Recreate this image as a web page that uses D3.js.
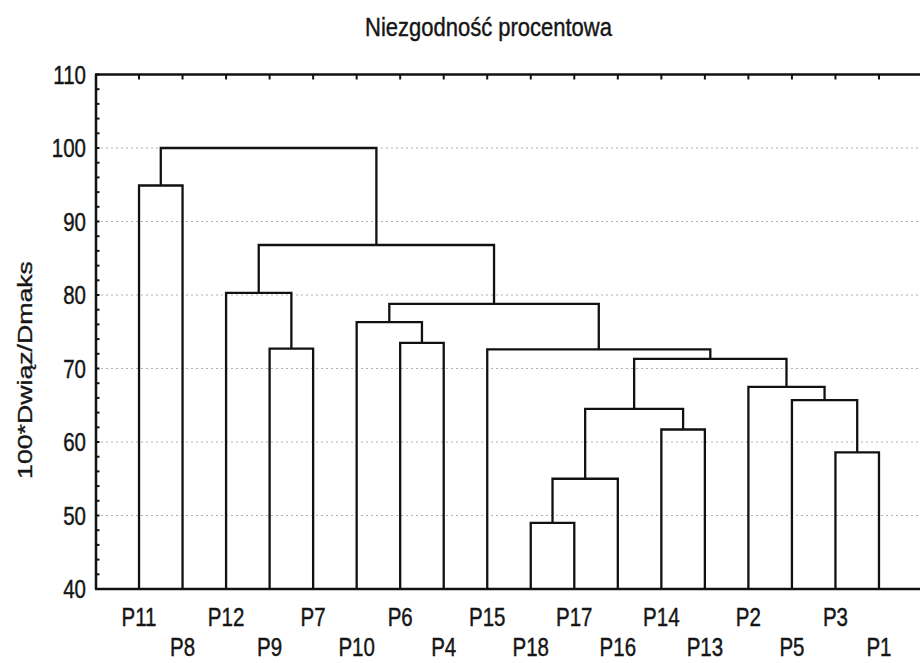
<!DOCTYPE html>
<html>
<head>
<meta charset="utf-8">
<script src="https://cdn.jsdelivr.net/npm/d3@7"></script>
<style>
  html, body { margin: 0; padding: 0; background: #fff; }
  svg { display: block; }
  text { font-family: "Liberation Sans", Arial, sans-serif; fill: #161616; stroke: #161616; stroke-width: 0.35px; }
</style>
</head>
<body>
<div id="chart"></div>
<script>
// Leaf order along the horizontal axis
const leaves = ["P11","P8","P12","P9","P7","P10","P6","P4","P15",
                "P18","P17","P16","P14","P13","P2","P5","P3","P1"];

// Agglomeration steps: [cluster id, left member, right member, linkage distance]
const merges = [
  ["c1",  "P18", "P17", 49.0],
  ["c2",  "c1",  "P16", 55.0],
  ["c3",  "P3",  "P1",  58.6],
  ["c4",  "P14", "P13", 61.7],
  ["c5",  "c2",  "c4",  64.5],
  ["c6",  "P5",  "c3",  65.7],
  ["c7",  "P2",  "c6",  67.5],
  ["c8",  "c5",  "c7",  71.3],
  ["c9",  "P15", "c8",  72.6],
  ["c10", "P9",  "P7",  72.7],
  ["c11", "P6",  "P4",  73.5],
  ["c12", "P10", "c11", 76.3],
  ["c13", "c12", "c9",  78.8],
  ["c14", "P12", "c10", 80.3],
  ["c15", "c14", "c13", 86.8],
  ["c16", "P11", "P8",  94.9],
  ["c17", "c16", "c15", 100.0]
];

const yTicks = [40, 50, 60, 70, 80, 90, 100, 110];
const gridValues = [50, 60, 70, 80, 90, 100];
const minorStep = 2;

const titleText = "Niezgodność procentowa";
const yLabelText = "100*Dwiąz/Dmaks";

const W = 920, H = 663;
const plotLeft = 96, plotTop = 74.5, plotBottom = 589, plotRight = 922.5;

const svg = d3.select("#chart").append("svg")
  .attr("width", W).attr("height", H);

const x = d3.scalePoint().domain(leaves).range([95.5, plotRight]).padding(1);
const y = d3.scaleLinear().domain([40, 110]).range([plotBottom, plotTop]);

// build the tree from the merge list
const nodes = new Map();
leaves.forEach(name => nodes.set(name, { name, dist: 40 }));
merges.forEach(([id, a, b, d]) => {
  nodes.set(id, { name: id, dist: d, children: [nodes.get(a), nodes.get(b)] });
});
const root = d3.hierarchy(nodes.get(merges[merges.length - 1][0]));
root.eachAfter(n => {
  n.px = n.children ? d3.mean(n.children, c => c.px) : x(n.data.name);
  n.py = y(n.data.dist);
});

// text drawn with a taller glyph aspect
function stretchedText(parent, tx, ty, str, size, sy, anchor) {
  return parent.append("text")
    .attr("transform", `translate(${tx},${ty}) scale(1,${sy})`)
    .attr("text-anchor", anchor)
    .style("font-size", size + "px")
    .text(str);
}

// dotted gridlines
svg.append("g").selectAll("line").data(gridValues).join("line")
  .attr("x1", plotLeft).attr("x2", W)
  .attr("y1", d => y(d)).attr("y2", d => y(d))
  .attr("stroke", "#b0b0b0").attr("stroke-width", 1)
  .attr("stroke-dasharray", "2,3");

// dendrogram links
const linkG = svg.append("g")
  .attr("fill", "none").attr("stroke", "#111").attr("stroke-width", 2.3)
  .attr("stroke-linejoin", "miter");
root.each(n => {
  if (!n.children) return;
  const [a, b] = n.children;
  linkG.append("path")
    .attr("d", `M${a.px},${a.py}V${n.py}H${b.px}V${b.py}`);
});

// frame: left axis, top border, bottom axis
const axG = svg.append("g").attr("stroke", "#111").attr("fill", "none");
axG.append("line").attr("x1", plotLeft).attr("x2", plotLeft)
  .attr("y1", plotTop).attr("y2", plotBottom).attr("stroke-width", 2.5);
axG.append("line").attr("x1", plotLeft - 1).attr("x2", W)
  .attr("y1", plotTop).attr("y2", plotTop).attr("stroke-width", 2.5);
axG.append("line").attr("x1", plotLeft - 1).attr("x2", W)
  .attr("y1", plotBottom).attr("y2", plotBottom).attr("stroke-width", 2.5);

// minor/major ticks on left axis (inward)
const yMinor = d3.range(40, 110 + 0.001, minorStep);
axG.selectAll(".ytick").data(yMinor).join("line")
  .attr("x1", plotLeft).attr("x2", plotLeft + 3.5)
  .attr("y1", d => y(d)).attr("y2", d => y(d))
  .attr("stroke-width", 2);

// ticks on top border at leaf positions
axG.selectAll(".xtick").data(leaves).join("line")
  .attr("x1", d => x(d)).attr("x2", d => x(d))
  .attr("y1", plotTop).attr("y2", plotTop + 5)
  .attr("stroke-width", 2);

// y tick labels
const labelSize = 20.5, labelStretch = 1.28;
const capHalf = 0.716 * labelSize * labelStretch / 2;
yTicks.forEach(v => {
  stretchedText(svg, 86, y(v) + capHalf, String(v), labelSize, labelStretch, "end");
});

// leaf labels in two staggered rows
leaves.forEach((name, i) => {
  const base = i % 2 === 0 ? 626 : 656;
  stretchedText(svg, x(name), base, name, labelSize, labelStretch, "middle");
});

// title
stretchedText(svg, 488.5, 35.5, titleText, 22, 1.16, "middle");

// y axis title (rotated, stretched along its length)
svg.append("text")
  .attr("transform", `translate(32,370) rotate(-90) scale(1.27,1)`)
  .attr("text-anchor", "middle")
  .style("font-size", "21px")
  .text(yLabelText);
</script>
</body>
</html>
